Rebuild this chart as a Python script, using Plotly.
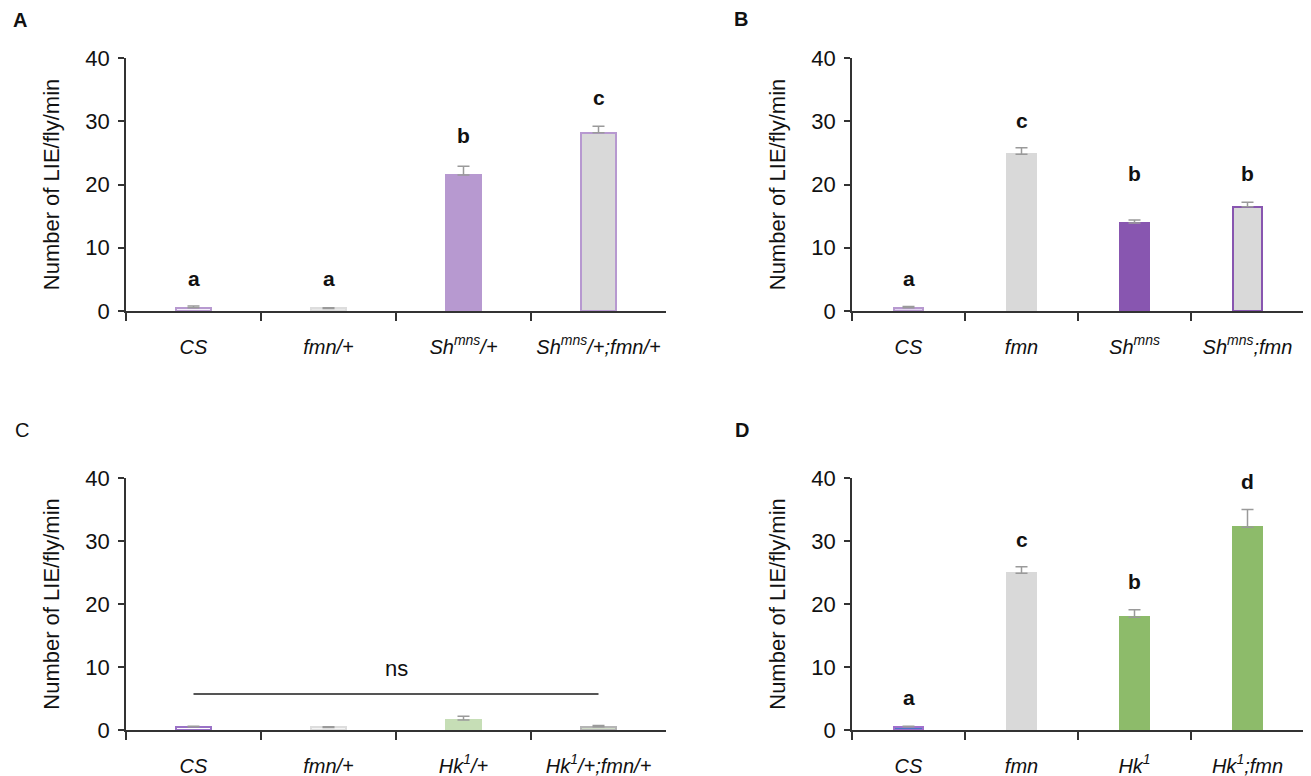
import plotly.graph_objects as go

# ---------------- data ----------------
cats_A = ["CS", "fmn/+", "Sh/+", "Sh/+;fmn/+"]
ticks_A = ["<i>CS</i>", "<i>fmn/+</i>", "<i>Sh<sup>mns</sup>/+</i>", "<i>Sh<sup>mns</sup>/+;fmn/+</i>"]
vals_A = [0.5, 0.4, 21.5, 28.2]
err_A = [0.3, 0.1, 1.4, 1.0]
sig_A = ["a", "a", "b", "c"]
sig_y_A = [5.1, 5.1, 27.7, 33.7]

cats_B = ["CS", "fmn", "Sh", "Sh;fmn"]
ticks_B = ["<i>CS</i>", "<i>fmn</i>", "<i>Sh<sup>mns</sup></i>", "<i>Sh<sup>mns</sup>;fmn</i>"]
vals_B = [0.5, 24.8, 13.9, 16.5]
err_B = [0.2, 1.0, 0.5, 0.7]
sig_B = ["a", "c", "b", "b"]
sig_y_B = [5.1, 30.1, 21.8, 21.8]

cats_C = ["CS", "fmn/+", "Hk/+", "Hk/+;fmn/+"]
ticks_C = ["<i>CS</i>", "<i>fmn/+</i>", "<i>Hk<sup>1</sup>/+</i>", "<i>Hk<sup>1</sup>/+;fmn/+</i>"]
vals_C = [0.5, 0.4, 1.6, 0.5]
err_C = [0.1, 0.1, 0.6, 0.2]
ns_y_C = 5.7
ns_text_y_C = 9.8

cats_D = ["CS", "fmn", "Hk", "Hk;fmn"]
ticks_D = ["<i>CS</i>", "<i>fmn</i>", "<i>Hk<sup>1</sup></i>", "<i>Hk<sup>1</sup>;fmn</i>"]
vals_D = [0.5, 24.9, 17.9, 32.2]
err_D = [0.1, 1.0, 1.2, 2.8]
sig_D = ["a", "c", "b", "d"]
sig_y_D = [5.1, 30.3, 23.5, 39.5]

y_ticks = [0, 10, 20, 30, 40]

# ---------------- styles ----------------
fill_A = ["#f4eefa", "#e8e8e8", "#b799d0", "#d9d9d9"]
line_A = ["#b799d0", "#dddddd", "#b799d0", "#b799d0"]
fill_B = ["#e2d4f0", "#d9d9d9", "#8856b0", "#d9d9d9"]
line_B = ["#b799d0", "#d9d9d9", "#8856b0", "#8856b0"]
fill_C = ["#ffffff", "#f4f4f4", "#c6deb6", "#cfdcc6"]
line_C = ["#9a72c6", "#dddddd", "#c6deb6", "#b5b5b5"]
fill_D = ["#4a78c8", "#d9d9d9", "#8dbb6a", "#8dbb6a"]
line_D = ["#a070cc", "#d9d9d9", "#8dbb6a", "#8dbb6a"]

# page body has an 8px margin: the figure is placed at (8, 8) in the window
OFF = 8
W, H = 1311 - OFF, 776 - OFF
FONT = "Liberation Sans, Arial, sans-serif"
AX = "#333333"
ERR = "#9a9a9a"

fig = go.Figure()

panels = [
    ("x", "y", cats_A, vals_A, err_A, fill_A, line_A),
    ("x2", "y2", cats_B, vals_B, err_B, fill_B, line_B),
    ("x3", "y3", cats_C, vals_C, err_C, fill_C, line_C),
    ("x4", "y4", cats_D, vals_D, err_D, fill_D, line_D),
]
for xa, ya, cats, vals, errs, fills, lines in panels:
    fig.add_trace(go.Bar(
        x=cats, y=vals, xaxis=xa, yaxis=ya, width=0.26,
        marker=dict(color=fills, line=dict(color=lines, width=2)),
        error_y=dict(type="data", symmetric=False, array=errs,
                     arrayminus=[0] * len(errs), color=ERR, thickness=1.5, width=6),
        showlegend=False, hoverinfo="x+y",
    ))

def px2x(p):
    return (p - OFF) / W

def px2y(p):
    return (H - (p - OFF)) / H

dom_x_left = [px2x(126), px2x(666)]
dom_x_right = [px2x(852), px2x(1304)]
dom_y_top = [px2y(311), px2y(58)]
dom_y_bot = [px2y(730), px2y(478)]

def xaxis(domain, anchor, cats, ticks):
    return dict(domain=domain, anchor=anchor, type="category",
                categoryorder="array", categoryarray=cats,
                tickvals=cats, ticktext=ticks, tickson="boundaries",
                ticks="outside", ticklen=8, tickwidth=1.5, tickcolor=AX,
                showline=True, linecolor=AX, linewidth=1.5,
                showgrid=False, zeroline=False, automargin=False,
                tickfont=dict(family=FONT, size=20, color="#111111"),
                ticklabelstandoff=17, range=[-0.5, 3.5], fixedrange=True)

def yaxis(domain, anchor):
    return dict(domain=domain, anchor=anchor, range=[0, 40],
                tickvals=y_ticks, ticks="outside", ticklen=6, tickwidth=1.5,
                tickcolor=AX, showline=True, linecolor=AX, linewidth=1.5,
                showgrid=False, zeroline=False, automargin=False,
                tickfont=dict(family=FONT, size=22, color="#111111"),
                ticklabelstandoff=4,
                title=dict(text="Number of LIE/fly/min", standoff=20,
                           font=dict(family=FONT, size=22, color="#111111")),
                fixedrange=True)

fig.update_layout(
    width=W, height=H,
    margin=dict(l=0, r=0, t=0, b=0),
    paper_bgcolor="white", plot_bgcolor="white",
    bargap=0,
    xaxis=xaxis(dom_x_left, "y", cats_A, ticks_A),
    yaxis=yaxis(dom_y_top, "x"),
    xaxis2=xaxis(dom_x_right, "y2", cats_B, ticks_B),
    yaxis2=yaxis(dom_y_top, "x2"),
    xaxis3=xaxis(dom_x_left, "y3", cats_C, ticks_C),
    yaxis3=yaxis(dom_y_bot, "x3"),
    xaxis4=xaxis(dom_x_right, "y4", cats_D, ticks_D),
    yaxis4=yaxis(dom_y_bot, "x4"),
)

annotations = []
for xa, ya, cats, sigs, sig_y in [("x", "y", cats_A, sig_A, sig_y_A),
                                  ("x2", "y2", cats_B, sig_B, sig_y_B),
                                  ("x4", "y4", cats_D, sig_D, sig_y_D)]:
    for c, s, yy in zip(cats, sigs, sig_y):
        annotations.append(dict(x=c, y=yy, xref=xa, yref=ya, text="<b>%s</b>" % s,
                                showarrow=False, xanchor="center", yanchor="middle",
                                font=dict(family=FONT, size=21, color="#111111")))

annotations.append(dict(x=1.5, y=ns_text_y_C, xref="x3", yref="y3", text="ns",
                        showarrow=False, xanchor="center", yanchor="middle",
                        font=dict(family=FONT, size=22, color="#111111")))

for txt, px, py, bold in [("A", 20, 20, True), ("B", 741, 19, True),
                          ("C", 22, 430, False), ("D", 742, 430, True)]:
    annotations.append(dict(x=px2x(px), y=px2y(py), xref="paper", yref="paper",
                            text=("<b>%s</b>" % txt) if bold else txt,
                            showarrow=False, xanchor="center", yanchor="middle",
                            font=dict(family=FONT, size=20, color="#111111")))

fig.update_layout(annotations=annotations)

fig.add_shape(type="line", xref="x3", yref="y3", x0=0, x1=3, y0=ns_y_C, y1=ns_y_C,
              line=dict(color="#555555", width=2))

fig.write_html("out.html")
